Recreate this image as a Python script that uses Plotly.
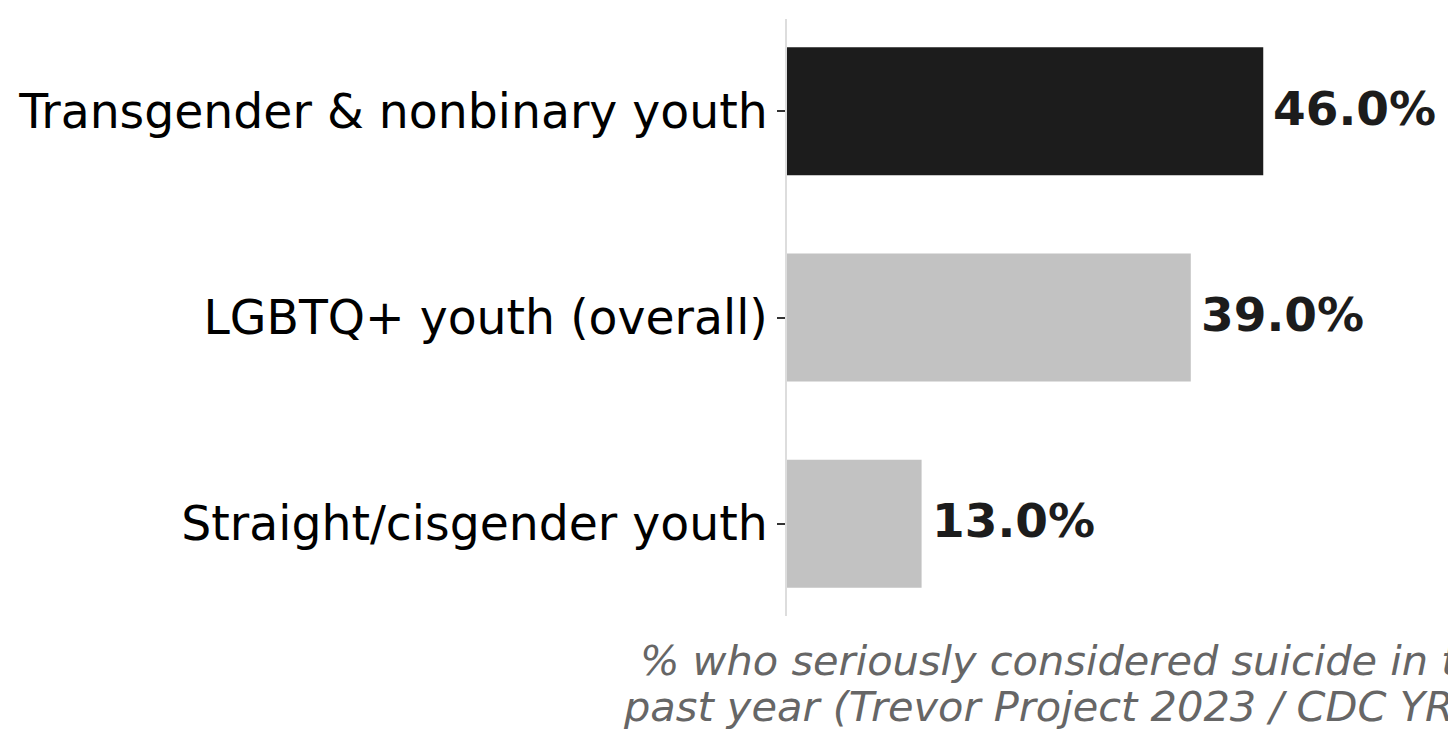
import plotly.graph_objects as go

# Data
groups = [
    'Transgender & nonbinary youth',
    'LGBTQ+ youth (overall)',
    'Straight/cisgender youth',
]
values = [46.0, 39.0, 13.0]
bar_colors = ['#1c1c1c', '#c2c2c2', '#c2c2c2']
title_lines = [
    '% who seriously considered suicide in the',
    'past year (Trevor Project 2023 / CDC YRBS)',
]

FONT = 'DejaVu Sans'

fig = go.Figure()
fig.add_trace(
    go.Bar(
        x=values,
        y=groups,
        orientation='h',
        width=0.62,
        marker=dict(color=bar_colors, line=dict(width=0)),
        hoverinfo='skip',
    )
)

# Value labels at the end of each bar
for g, v in zip(groups, values):
    fig.add_annotation(
        x=v,
        y=g,
        text=f'<b>{v:.1f}%</b>',
        showarrow=False,
        xanchor='left',
        yanchor='middle',
        xshift=8,
        yshift=3,
        font=dict(family=FONT, size=47, color='#1c1c1c'),
    )

# x-axis title, two lines kept tight like the original
for i, line in enumerate(title_lines):
    fig.add_annotation(
        xref='paper',
        yref='paper',
        x=0.5,
        y=0,
        text=f'<i>{line}</i>',
        showarrow=False,
        xanchor='center',
        yanchor='middle',
        xshift=-6,
        yshift=-44 - 46 * i,
        font=dict(family=FONT, size=41.5, color='#666666'),
    )

fig.update_layout(
    width=1456,
    height=752,
    margin=dict(l=779, r=91, t=11, b=144, autoexpand=False),
    paper_bgcolor='white',
    plot_bgcolor='white',
    showlegend=False,
    font=dict(family=FONT, color='black'),
)
fig.update_xaxes(
    range=[0, 56.6],
    showgrid=False,
    zeroline=False,
    showline=False,
    showticklabels=False,
    ticks='',
    automargin=False,
)
fig.update_yaxes(
    range=[2.447, -0.447],
    showgrid=False,
    zeroline=False,
    showline=True,
    linecolor='#dddddd',
    linewidth=1.5,
    ticks='outside',
    ticklen=8,
    tickwidth=1.5,
    tickcolor='#333333',
    tickfont=dict(family=FONT, size=47.3, color='black'),
    automargin=False,
)

fig.write_html('out.html')
